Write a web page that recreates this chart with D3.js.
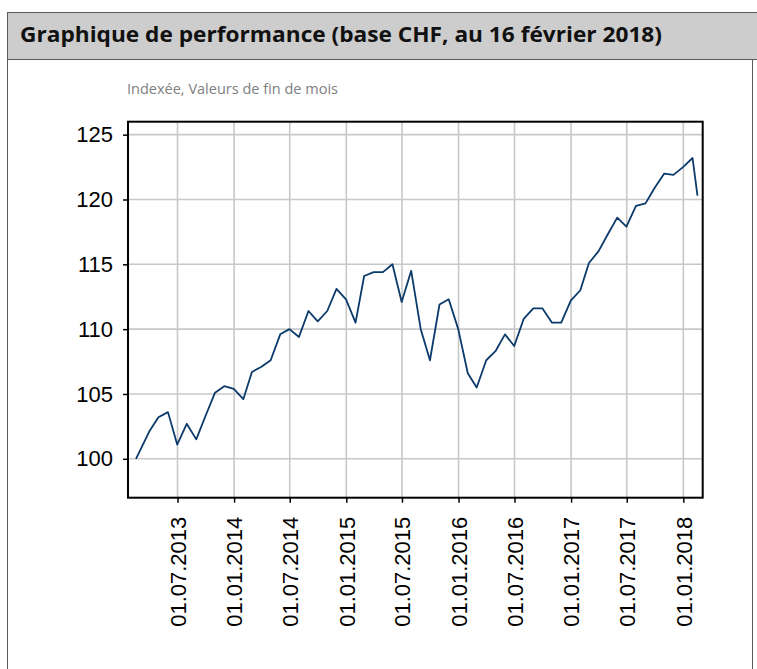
<!DOCTYPE html>
<html>
<head>
<meta charset="utf-8">
<script src="https://cdn.jsdelivr.net/npm/d3@7"></script>
<style>
  html, body { margin: 0; padding: 0; background: #fff; }
  svg { display: block; }
</style>
</head>
<body>
<svg id="chart" width="757" height="669"></svg>
<script>
// Performance index (CHF base), month-end values plus the last valuation date
const dates = [
  "2013-02-16", "2013-03-31", "2013-04-30", "2013-05-31", "2013-06-30", "2013-07-31",
  "2013-08-31", "2013-09-30", "2013-10-31", "2013-11-30", "2013-12-31",
  "2014-01-31", "2014-02-28", "2014-03-31", "2014-04-30", "2014-05-31", "2014-06-30",
  "2014-07-31", "2014-08-31", "2014-09-30", "2014-10-31", "2014-11-30", "2014-12-31",
  "2015-01-31", "2015-02-28", "2015-03-31", "2015-04-30", "2015-05-31", "2015-06-30",
  "2015-07-31", "2015-08-31", "2015-09-30", "2015-10-31", "2015-11-30", "2015-12-31",
  "2016-01-31", "2016-02-29", "2016-03-31", "2016-04-30", "2016-05-31", "2016-06-30",
  "2016-07-31", "2016-08-31", "2016-09-30", "2016-10-31", "2016-11-30", "2016-12-31",
  "2017-01-31", "2017-02-28", "2017-03-31", "2017-04-30", "2017-05-31", "2017-06-30",
  "2017-07-31", "2017-08-31", "2017-09-30", "2017-10-31", "2017-11-30", "2017-12-31",
  "2018-01-31", "2018-02-16"
];

const values = [
  100.0, 102.1, 103.2, 103.6, 101.1, 102.7, 101.5, 103.3, 105.1, 105.6, 105.4,
  104.6, 106.7, 107.1, 107.6, 109.6, 110.0, 109.4, 111.4, 110.6, 111.4, 113.1, 112.3,
  110.5, 114.1, 114.4, 114.4, 115.0, 112.1, 114.5, 110.0, 107.6, 111.9, 112.3, 110.0,
  106.6, 105.5, 107.6, 108.3, 109.6, 108.7, 110.8, 111.6, 111.6, 110.5, 110.5, 112.2,
  113.0, 115.1, 116.0, 117.3, 118.6, 117.9, 119.5, 119.7, 120.9, 122.0, 121.9, 122.5,
  123.2, 120.3
];

const xTickLabels = [
  "01.07.2013", "01.01.2014", "01.07.2014", "01.01.2015", "01.07.2015",
  "01.01.2016", "01.07.2016", "01.01.2017", "01.07.2017", "01.01.2018"
];
const yTickValues = [100, 105, 110, 115, 120, 125];
const xDomain = ["2013-01-21", "2018-03-05"];
const yDomain = [97, 126];

const titleText = "Graphique de performance (base CHF, au 16 février 2018)";
const subtitleText = "Indexée, Valeurs de fin de mois";

const parseIso = d3.timeParse("%Y-%m-%d");
const parseTick = d3.timeParse("%d.%m.%Y");
const fmtTick = d3.timeFormat("%d.%m.%Y");

const series = dates.map((d, i) => ({ date: parseIso(d), value: values[i] }));

const svg = d3.select("#chart");

// Panel frame with grey header band
const frame = svg.append("g");
frame.append("rect")
  .attr("x", 7.5).attr("y", 12.5)
  .attr("width", 760).attr("height", 47)
  .attr("fill", "#cdcdcd")
  .attr("stroke", "#5a5a5a").attr("stroke-width", 1);
frame.append("line")
  .attr("x1", 7.5).attr("x2", 7.5).attr("y1", 59).attr("y2", 669)
  .attr("stroke", "#5a5a5a");
frame.append("line")
  .attr("x1", 752.5).attr("x2", 752.5).attr("y1", 59.5).attr("y2", 669)
  .attr("stroke", "#5a5a5a");

frame.append("text")
  .attr("x", 20).attr("y", 42)
  .attr("textLength", 642).attr("lengthAdjust", "spacingAndGlyphs")
  .style("font-family", "'Open Sans', 'Noto Sans', sans-serif")
  .style("font-weight", "bold")
  .style("font-size", "21px")
  .style("fill", "#111")
  .text(titleText);

frame.append("text")
  .attr("x", 127).attr("y", 94)
  .attr("textLength", 211).attr("lengthAdjust", "spacingAndGlyphs")
  .style("font-family", "'Open Sans', 'Noto Sans', sans-serif")
  .style("font-size", "14px")
  .style("fill", "#808080")
  .text(subtitleText);

// Plot area
const plot = { left: 128, top: 121.7, right: 702.7, bottom: 497.7 };

const x = d3.scaleTime()
  .domain(xDomain.map(parseIso))
  .range([plot.left, plot.right]);

const y = d3.scaleLinear()
  .domain(yDomain)
  .range([plot.bottom, plot.top]);

const xTicks = xTickLabels.map(parseTick);

const g = svg.append("g");

// Grid lines
g.append("g")
  .selectAll("line.hgrid")
  .data(yTickValues)
  .join("line")
  .attr("x1", plot.left).attr("x2", plot.right)
  .attr("y1", d => y(d)).attr("y2", d => y(d))
  .attr("stroke", "#c8c8c8").attr("stroke-width", 1.6);

g.append("g")
  .selectAll("line.vgrid")
  .data(xTicks)
  .join("line")
  .attr("x1", d => x(d)).attr("x2", d => x(d))
  .attr("y1", plot.top).attr("y2", plot.bottom)
  .attr("stroke", "#c8c8c8").attr("stroke-width", 1.6);

// Index line
const line = d3.line()
  .x(d => x(d.date))
  .y(d => y(d.value));

g.append("path")
  .datum(series)
  .attr("fill", "none")
  .attr("stroke", "#0b3a6b")
  .attr("stroke-width", 1.8)
  .attr("stroke-linejoin", "round")
  .attr("d", line);

// Axes
const axisFont = "'Liberation Sans', Arial, Helvetica, sans-serif";

const yAxis = g.append("g")
  .attr("transform", `translate(${plot.left},0)`)
  .call(d3.axisLeft(y).tickValues(yTickValues).tickSize(5).tickPadding(10));
yAxis.select(".domain").remove();
yAxis.selectAll(".tick line").attr("stroke", "#000").attr("stroke-width", 1.5);
yAxis.selectAll(".tick text")
  .style("font-family", axisFont)
  .style("font-size", "22px")
  .style("fill", "#000");

const xAxis = g.append("g")
  .attr("transform", `translate(0,${plot.bottom})`)
  .call(d3.axisBottom(x).tickValues(xTicks).tickFormat(fmtTick).tickSize(5));
xAxis.select(".domain").remove();
xAxis.selectAll(".tick line").attr("stroke", "#000").attr("stroke-width", 1.5);
xAxis.selectAll(".tick text")
  .attr("transform", "rotate(-90)")
  .attr("x", -19)
  .attr("y", 0)
  .attr("dy", "0.35em")
  .style("text-anchor", "end")
  .style("font-family", axisFont)
  .style("font-size", "22px")
  .style("fill", "#000");

// Plot border
g.append("rect")
  .attr("x", plot.left).attr("y", plot.top)
  .attr("width", plot.right - plot.left)
  .attr("height", plot.bottom - plot.top)
  .attr("fill", "none")
  .attr("stroke", "#000")
  .attr("stroke-width", 2);
</script>
</body>
</html>
